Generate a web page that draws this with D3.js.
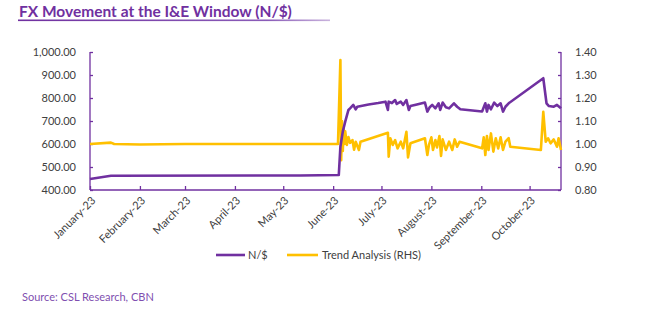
<!DOCTYPE html>
<html><head><meta charset="utf-8">
<script src="https://cdn.jsdelivr.net/npm/d3@7"></script>
<style>
body{margin:0;background:#fff;}
svg text{font-family:Lato,"Open Sans",sans-serif;}
</style></head>
<body><svg id="c" width="660" height="325"></svg>
<script>
// ---- data ----
const nairaDates = ["2023-01-01 00","2023-01-14 00","2023-05-11 12","2023-06-04 12","2023-06-05 12","2023-06-07 00","2023-06-08 12","2023-06-10 12","2023-06-11 12","2023-06-13 12","2023-06-15 00","2023-06-16 00","2023-06-23 00","2023-06-29 00","2023-07-03 12","2023-07-05 00","2023-07-05 12","2023-07-07 12","2023-07-09 12","2023-07-10 12","2023-07-13 00","2023-07-14 12","2023-07-16 12","2023-07-18 00","2023-07-19 00","2023-07-23 00","2023-07-28 00","2023-07-29 12","2023-07-31 00","2023-08-01 12","2023-08-03 12","2023-08-05 12","2023-08-06 12","2023-08-08 00","2023-08-10 00","2023-08-12 00","2023-08-15 00","2023-08-17 00","2023-08-19 00","2023-09-01 12","2023-09-03 12","2023-09-04 12","2023-09-05 12","2023-09-07 00","2023-09-09 00","2023-09-11 00","2023-09-13 00","2023-09-14 12","2023-09-16 00","2023-09-18 00","2023-10-09 12","2023-10-11 12","2023-10-13 00","2023-10-16 00","2023-10-18 00","2023-10-20 12"];
const nairaValues = [448,462,463,465,588,655,697,748,755,770,751,762,772,778,784,748,784,778,791,774,784,770,791,748,765,772,780,741,760,770,755,777,748,780,760,755,777,762,751,741,777,741,770,751,780,765,777,741,762,777,886,777,765,762,770,755];

const trendDates = ["2023-01-01 00","2023-01-14 00","2023-01-16 00","2023-02-01 00","2023-03-01 00","2023-06-04 00","2023-06-05 12","2023-06-06 00","2023-06-06 12","2023-06-07 00","2023-06-07 12","2023-06-08 00","2023-06-08 12","2023-06-09 12","2023-06-10 12","2023-06-11 12","2023-06-13 00","2023-06-14 00","2023-06-15 00","2023-06-17 00","2023-06-18 00","2023-07-05 00","2023-07-05 12","2023-07-06 12","2023-07-08 00","2023-07-09 12","2023-07-11 00","2023-07-13 00","2023-07-14 12","2023-07-16 12","2023-07-17 12","2023-07-19 00","2023-07-28 00","2023-07-29 12","2023-07-30 12","2023-08-01 00","2023-08-02 00","2023-08-03 12","2023-08-04 12","2023-08-06 00","2023-08-07 00","2023-08-08 00","2023-08-10 00","2023-08-12 00","2023-08-14 00","2023-08-15 12","2023-08-17 00","2023-08-18 12","2023-09-01 12","2023-09-02 12","2023-09-03 12","2023-09-04 12","2023-09-05 12","2023-09-07 00","2023-09-08 12","2023-09-10 00","2023-09-11 12","2023-09-13 00","2023-09-14 12","2023-09-16 00","2023-09-18 00","2023-09-19 00","2023-10-08 00","2023-10-09 12","2023-10-11 00","2023-10-12 12","2023-10-14 00","2023-10-16 00","2023-10-18 00","2023-10-19 00","2023-10-20 12"];
const trendValues = [1.000,1.006,1.000,0.998,1.000,1.000,1.365,0.930,1.100,0.970,1.070,1.000,1.055,0.996,1.030,1.005,1.017,0.975,1.010,0.974,1.010,1.049,0.945,1.025,0.996,1.017,0.981,1.010,0.981,1.053,0.942,1.003,1.025,0.952,0.996,1.029,0.974,1.017,0.985,1.035,0.948,1.020,0.974,1.010,0.974,1.020,0.988,1.010,0.981,1.029,0.952,1.035,0.974,1.046,0.967,1.025,0.981,1.029,0.974,1.010,1.025,0.988,0.974,1.140,1.010,1.025,1.003,1.020,0.988,1.025,0.974];

const leftTicks = [400,500,600,700,800,900,1000];
const rightTicks = [0.8,0.9,1.0,1.1,1.2,1.3,1.4];
const monthTicks = ["2023-01-01 00","2023-02-01 00","2023-03-01 00","2023-04-01 00","2023-05-01 00","2023-06-01 00","2023-07-01 00","2023-08-01 00","2023-09-01 00","2023-10-01 00"];
const seriesNames = ["N/$","Trend Analysis (RHS)"];

// ---- chart ----
const purple = "#7030A0", gold = "#FFC000", txt = "#404040";
const parse = d3.utcParse("%Y-%m-%d %H");
const svg = d3.select("#c");
const L = 90, R = 561, T = 52, B = 190;

const naira = nairaDates.map((d,i)=>({date:parse(d), v:nairaValues[i]}));
const trend = trendDates.map((d,i)=>({date:parse(d), v:trendValues[i]}));

const x = d3.scaleUtc().domain([parse(nairaDates[0]), parse(nairaDates[nairaDates.length-1])]).range([L,R]);
const yL = d3.scaleLinear().domain([400,1000]).range([B,T]);
const yR = d3.scaleLinear().domain([0.8,1.4]).range([B,T]);

// title
svg.append("text").attr("x",19).attr("y",17).attr("fill",purple)
  .attr("font-size",15.5).attr("font-weight","bold").text("FX Movement at the I&E Window (N/$)");
const grad = svg.append("defs").append("linearGradient").attr("id","ul");
grad.append("stop").attr("offset","0%").attr("stop-color",purple);
grad.append("stop").attr("offset","80%").attr("stop-color","#8a5cb8");
grad.append("stop").attr("offset","100%").attr("stop-color","#c9b3dd");
svg.append("rect").attr("x",18).attr("y",19.5).attr("width",312).attr("height",1.6).attr("fill","url(#ul)");

// axes
const gL = svg.append("g").attr("transform",`translate(${L},0)`)
  .call(d3.axisRight(yL).tickValues(leftTicks).tickSize(3).tickFormat(d3.format(",.2f")));
gL.selectAll("text").attr("x",-14).attr("text-anchor","end");
const gR = svg.append("g").attr("transform",`translate(${R},0)`)
  .call(d3.axisLeft(yR).tickValues(rightTicks).tickSize(3).tickFormat(d3.format(".2f")));
gR.selectAll("text").attr("x",14).attr("text-anchor","start");
const gX = svg.append("g").attr("transform",`translate(0,${B})`)
  .call(d3.axisTop(x).tickValues(monthTicks.map(parse)).tickSize(4).tickFormat(d3.utcFormat("%B-%y")));
gX.selectAll("text").attr("transform","rotate(-45)").attr("text-anchor","end")
  .attr("x",-4).attr("y",12).attr("dy",0);
[gL,gR,gX].forEach(g=>{
  g.select(".domain").attr("stroke",purple).attr("stroke-width",1.3);
  g.selectAll(".tick line").attr("stroke",purple).attr("stroke-width",1.3);
  g.selectAll("text").attr("fill",txt).attr("font-size",11).attr("font-family","Lato,'Open Sans',sans-serif");
});
gX.select(".domain").attr("d",`M${L},0H${R}`);
gL.select(".domain").attr("d",`M0,${T}V${B}`);
gR.select(".domain").attr("d",`M0,${T}V${B}`);

// lines
svg.append("path").datum(trend).attr("fill","none").attr("stroke",gold).attr("stroke-width",2.6)
  .attr("stroke-linejoin","round").attr("d",d3.line().x(d=>x(d.date)).y(d=>yR(d.v)));
svg.append("path").datum(naira).attr("fill","none").attr("stroke",purple).attr("stroke-width",2.6)
  .attr("stroke-linejoin","round").attr("d",d3.line().x(d=>x(d.date)).y(d=>yL(d.v)));

// legend
const lg = svg.append("g").attr("font-size",11);
lg.append("line").attr("x1",216).attr("x2",245).attr("y1",255).attr("y2",255).attr("stroke",purple).attr("stroke-width",2.6);
lg.append("text").attr("x",248).attr("y",259).attr("fill",txt).text(seriesNames[0]);
lg.append("line").attr("x1",287).attr("x2",318).attr("y1",255).attr("y2",255).attr("stroke",gold).attr("stroke-width",2.6);
lg.append("text").attr("x",322).attr("y",259).attr("fill",txt).text(seriesNames[1]);

// source
svg.append("text").attr("x",22).attr("y",301).attr("fill","#7f4fb0").attr("font-size",11).text("Source: CSL Research, CBN");
</script></body></html>
